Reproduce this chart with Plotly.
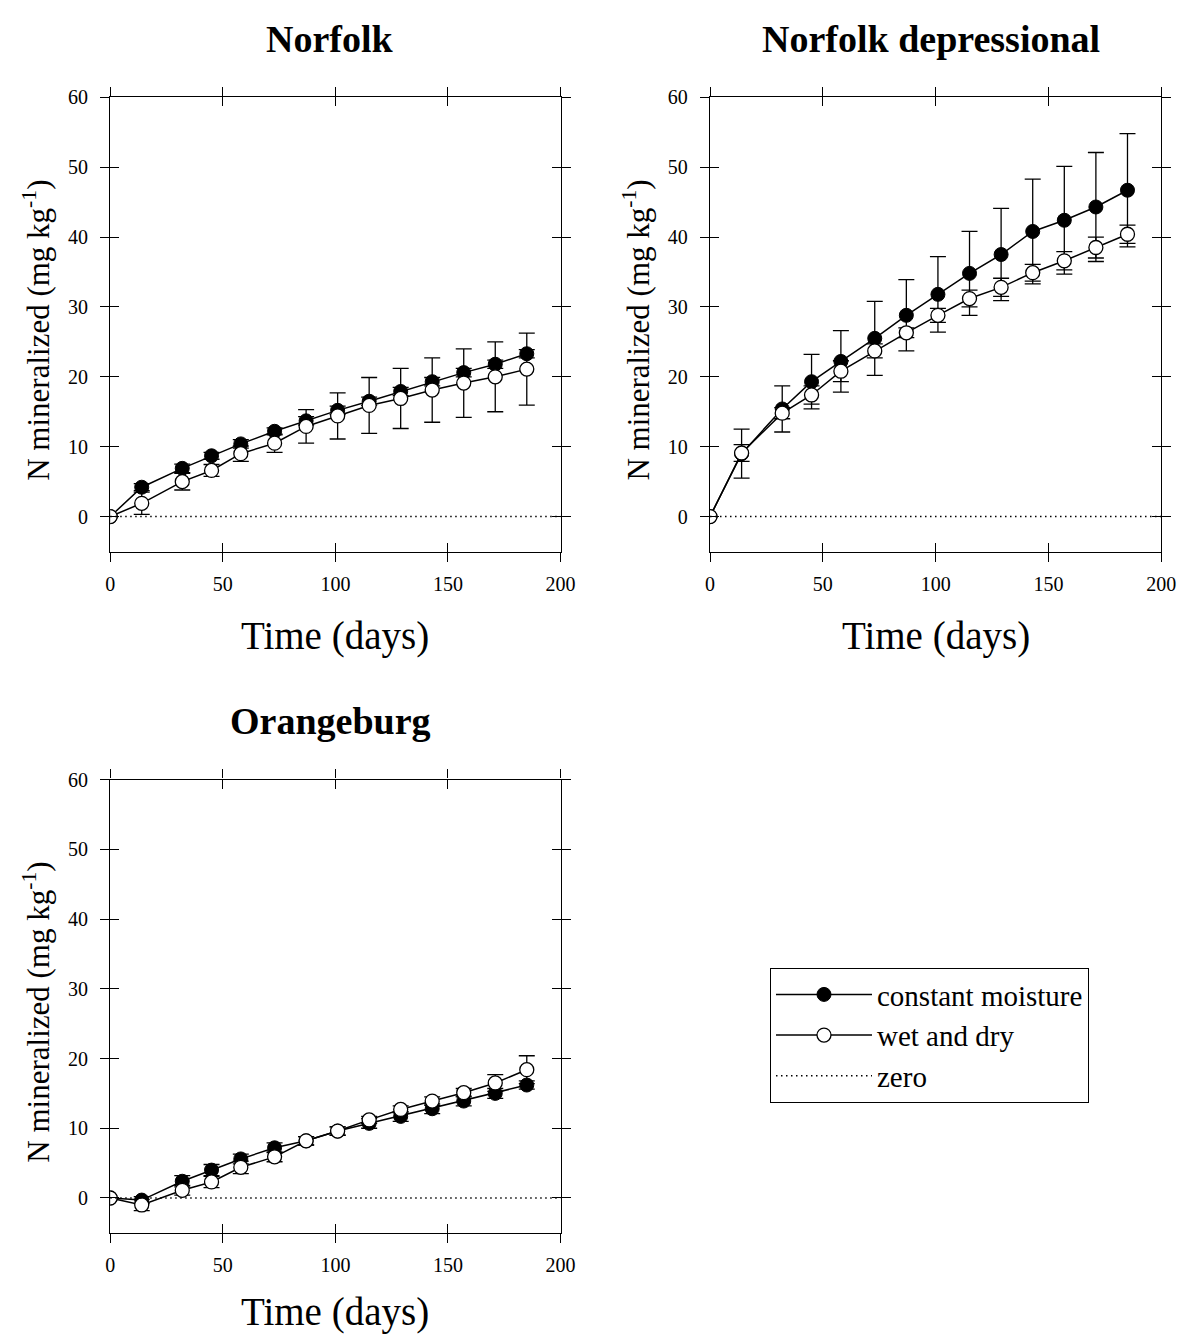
import plotly.graph_objects as go

DAYS = [0, 14, 32, 45, 58, 73, 87, 101, 115, 129, 143, 157, 171, 185]

# Norfolk
NF_CONST = [0, 4.2, 6.9, 8.7, 10.4, 12.2, 13.7, 15.2, 16.5, 17.9, 19.3, 20.6, 21.8, 23.3]
NF_CONST_ERR = [0, 0.5, 0.6, 0.5, 0.6, 0.5, 0.6, 0.6, 0.6, 0.6, 0.6, 0.6, 0.6, 0.6]
NF_WD = [0, 1.9, 5.0, 6.6, 9.0, 10.5, 12.9, 14.4, 15.9, 16.9, 18.1, 19.1, 20.0, 21.1]
NF_WD_ERR = [0, 1.6, 1.2, 0.85, 1.1, 1.3, 2.4, 3.3, 4.0, 4.3, 4.6, 4.9, 5.0, 5.15]

# Norfolk depressional
ND_CONST = [0, 9.0, 15.4, 19.3, 22.2, 25.5, 28.8, 31.8, 34.8, 37.5, 40.8, 42.4, 44.3, 46.7]
ND_CONST_ERR = [0, 3.5, 3.3, 3.9, 4.4, 5.3, 5.1, 5.4, 6.0, 6.6, 7.5, 7.7, 7.8, 8.1]
ND_WD = [0, 9.1, 14.8, 17.4, 20.8, 23.7, 26.3, 28.8, 31.2, 32.8, 34.9, 36.6, 38.5, 40.4]
ND_WD_ERR = [0, 1.2, 0.8, 1.3, 1.5, 1.0, 0.7, 1.0, 1.2, 1.3, 1.2, 1.3, 1.5, 1.3]

# Orangeburg
OB_CONST = [0, -0.3, 2.4, 4.0, 5.6, 7.2, 8.2, 9.6, 10.7, 11.7, 12.8, 13.9, 15.0, 16.2]
OB_CONST_ERR = [0, 0.5, 0.8, 0.8, 0.7, 0.7, 0.6, 0.6, 0.7, 0.7, 0.7, 0.7, 0.7, 0.6]
OB_WD = [0, -1.0, 1.1, 2.3, 4.4, 5.9, 8.2, 9.6, 11.2, 12.7, 13.9, 15.1, 16.5, 18.4]
OB_WD_ERR = [0, 0.8, 0.7, 0.8, 0.9, 0.7, 0.6, 0.6, 0.5, 0.5, 0.6, 0.6, 1.2, 2.0]

ZERO_X = [0, 200]
ZERO_Y = [0, 0]

PANELS = [
    ("Norfolk", NF_CONST, NF_CONST_ERR, NF_WD, NF_WD_ERR),
    ("Norfolk depressional", ND_CONST, ND_CONST_ERR, ND_WD, ND_WD_ERR),
    ("Orangeburg", OB_CONST, OB_CONST_ERR, OB_WD, OB_WD_ERR),
]

X_TICKS = [0, 50, 100, 150, 200]
Y_TICKS = [0, 10, 20, 30, 40, 50, 60]

W, H = 1196, 1336
FONT = "Liberation Serif"

# pixel boxes of each plot area: (left, right, top, bottom)
BOXES = [(107, 565, 87, 545), (717, 1176, 87, 545), (107, 565, 775, 1232)]


def px(x):
    return x / W


def py(y):
    return 1 - y / H


fig = go.Figure()
layout = dict(
    width=W, height=H, autosize=False,
    margin=dict(l=0, r=0, t=0, b=0),
    paper_bgcolor="white", plot_bgcolor="white",
    font=dict(family=FONT, color="black", size=20),
    showlegend=True,
)

annotations = []
for i, (name, cv, ce, wv, we) in enumerate(PANELS):
    n = i + 1
    o = i + 4
    left, right, top, bottom = BOXES[i]
    xd = [px(left), px(right)]
    yd = [py(bottom), py(top)]
    xs = "" if n == 1 else str(n)
    os_ = str(o)
    common = dict(showgrid=False, zeroline=False, tickcolor="black",
                  tickwidth=1.3, ticklen=9)
    layout["xaxis" + xs] = dict(domain=xd, anchor="y" + xs, range=[0, 200],
                                tickmode="array", tickvals=X_TICKS,
                                ticks="outside", mirror="ticks", showline=True,
                                linecolor="black", linewidth=1.3,
                                tickfont=dict(size=20, family=FONT),
                                ticklabelstandoff=5, **common)
    layout["yaxis" + xs] = dict(domain=yd, anchor="x" + xs, range=[-5, 60],
                                tickmode="array", tickvals=Y_TICKS,
                                ticks="outside", mirror="ticks", showline=True,
                                linecolor="black", linewidth=1.3,
                                tickfont=dict(size=20, family=FONT),
                                ticklabelstandoff=8, **common)
    layout["xaxis" + os_] = dict(domain=xd, anchor="y" + os_, overlaying="x" + xs,
                                 range=[0, 200], tickmode="array", tickvals=X_TICKS,
                                 ticks="inside", mirror="ticks", showline=False,
                                 showticklabels=False, **common)
    layout["yaxis" + os_] = dict(domain=yd, anchor="x" + os_, overlaying="y" + xs,
                                 range=[-5, 60], tickmode="array", tickvals=Y_TICKS,
                                 ticks="inside", mirror="ticks", showline=False,
                                 showticklabels=False, **common)

    show = (i == 0)
    fig.add_trace(go.Scatter(
        x=DAYS, y=cv, mode="lines+markers", name="constant moisture",
        xaxis="x" + xs, yaxis="y" + xs, showlegend=show, legendrank=1,
        line=dict(color="black", width=1.5),
        marker=dict(symbol="circle", size=14, color="black",
                    line=dict(color="black", width=1)),
        error_y=dict(type="data", array=ce, visible=True, color="black",
                     thickness=1.3, width=8),
    ))
    fig.add_trace(go.Scatter(
        x=DAYS, y=wv, mode="lines+markers", name="wet and dry",
        xaxis="x" + xs, yaxis="y" + xs, showlegend=show, legendrank=2,
        line=dict(color="black", width=1.5),
        marker=dict(symbol="circle", size=14, color="white",
                    line=dict(color="black", width=1.3)),
        error_y=dict(type="data", array=we, visible=True, color="black",
                     thickness=1.3, width=8),
    ))
    fig.add_trace(go.Scatter(
        x=ZERO_X, y=ZERO_Y, mode="lines", name="zero",
        xaxis="x" + os_, yaxis="y" + os_, showlegend=show, legendrank=3,
        line=dict(color="black", width=1.5, dash="1.5px,3.5px"),
        hoverinfo="skip",
    ))

    cx = (left + right) / 2
    cy = (top + bottom) / 2
    annotations.append(dict(text="<b>" + name + "</b>", x=px(cx - 5),
                            y=py(top - 59), xref="paper", yref="paper",
                            showarrow=False, font=dict(size=38, family=FONT),
                            xanchor="center", yanchor="middle"))
    xt_y = bottom + 85
    if xt_y + 25 > H:
        xt = dict(y=0, yanchor="bottom")
    else:
        xt = dict(y=py(xt_y), yanchor="middle")
    annotations.append(dict(text="Time (days)", x=px(cx),
                            xref="paper", yref="paper", showarrow=False,
                            font=dict(size=39, family=FONT),
                            xanchor="center", **xt))
    annotations.append(dict(text="N mineralized (mg kg<sup>-1</sup>)",
                            x=px(left - 75), y=py(cy + 6), xref="paper", yref="paper",
                            showarrow=False, textangle=-90,
                            font=dict(size=31, family=FONT),
                            xanchor="center", yanchor="middle"))

layout["annotations"] = annotations
layout["legend"] = dict(x=px(778), y=py(965), xanchor="left", yanchor="top",
                        bordercolor="black", borderwidth=1, bgcolor="white",
                        font=dict(size=29, family=FONT), itemwidth=96,
                        traceorder="normal")
fig.update_layout(**layout)
fig.write_html("out.html")
